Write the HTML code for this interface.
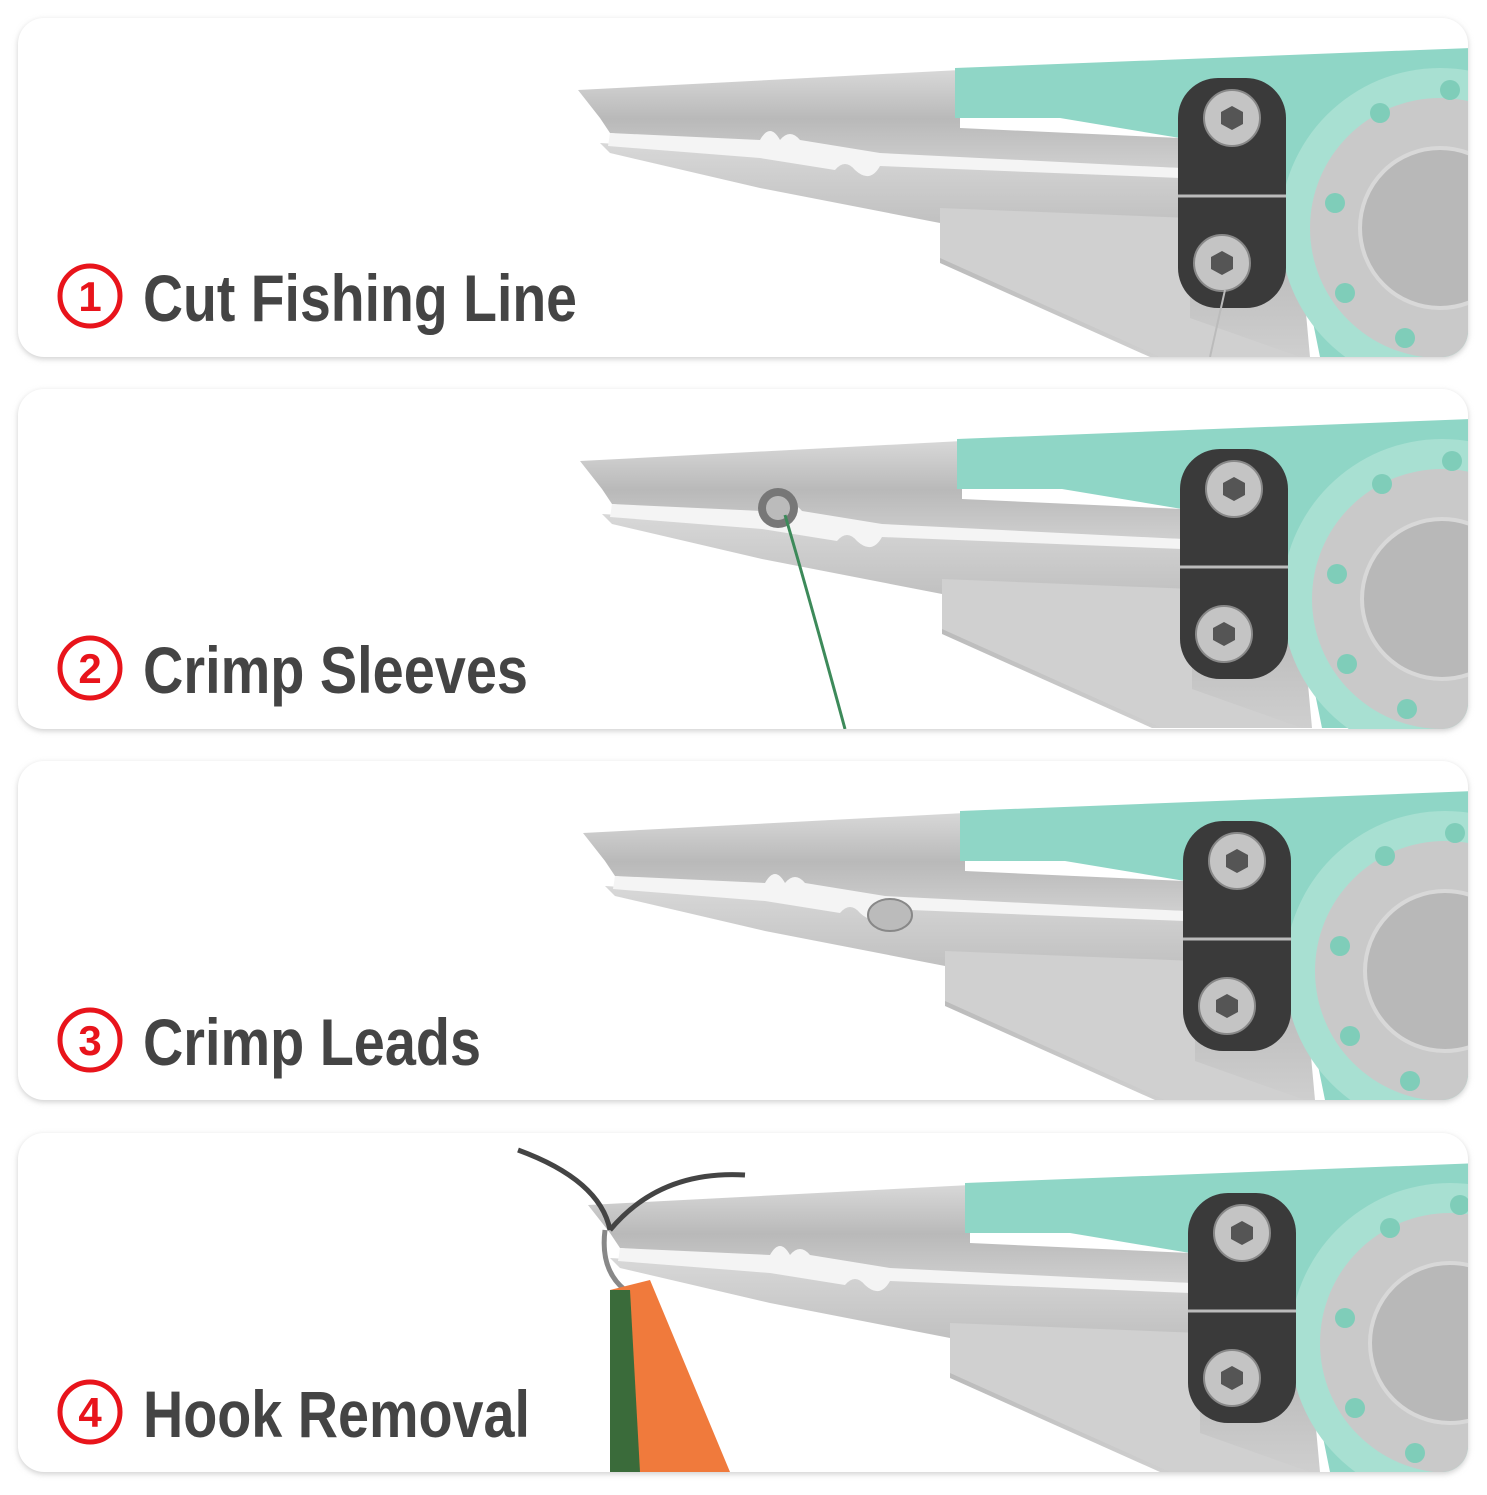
<!DOCTYPE html>
<html><head><meta charset="utf-8"><style>
html,body{margin:0;padding:0;background:#fff;}
body{width:1487px;height:1490px;overflow:hidden;}
</style></head><body>
<svg width="1487" height="1490" viewBox="0 0 1487 1490" xmlns="http://www.w3.org/2000/svg">
<defs>
<filter id="sh" x="-5%" y="-10%" width="110%" height="120%"><feGaussianBlur stdDeviation="3"/></filter>
<linearGradient id="silv" x1="0" y1="0" x2="0" y2="1"><stop offset="0" stop-color="#d8d8d8"/><stop offset="0.5" stop-color="#b9b9b9"/><stop offset="1" stop-color="#cfcfcf"/></linearGradient>
<g id="plier">
  <!-- lower jaw -->
  <polygon points="600,125 1190,160 1190,230 1300,230 1310,339 1150,339 940,245 940,205 760,170 610,135" fill="url(#silv)"/>
  <polygon points="940,190 1190,200 1190,300 1300,339 1160,339 940,240" fill="#d0d0d0"/>
  <!-- upper jaw -->
  <polygon points="578,72 960,52 960,110 1180,120 1180,150 880,140 610,115 600,100" fill="url(#silv)"/>
  <!-- teeth gap -->
  <path d="M610,115 L760,122 q10,-18 20,0 q10,-12 20,0 L880,135 L1180,150 L1180,160 L880,148 q-10,18 -25,4 q-10,-12 -20,0 L760,140 L608,128 Z" fill="#f4f4f4"/>
  <!-- teal handle -->
  <polygon points="955,50 1470,30 1470,339 1320,339 1300,240 1280,150 1180,120 1060,100 955,100" fill="#8fd6c6"/>
  <circle cx="1440" cy="210" r="160" fill="#a8e0d2"/>
  <circle cx="1440" cy="210" r="130" fill="#c9c9c9"/>
  <circle cx="1440" cy="210" r="80" fill="#b8b8b8" stroke="#d8d8d8" stroke-width="4"/>
  <g fill="#7fcdb9">
    <circle cx="1380" cy="95" r="10"/><circle cx="1335" cy="185" r="10"/><circle cx="1345" cy="275" r="10"/>
    <circle cx="1405" cy="320" r="10"/><circle cx="1450" cy="72" r="10"/>
  </g>
  <!-- plate -->
  <rect x="1178" y="60" width="108" height="230" rx="40" fill="#3a3a3a"/>
  <line x1="1178" y1="178" x2="1286" y2="178" stroke="#bbb" stroke-width="3"/>
  <circle cx="1232" cy="100" r="28" fill="#c4c4c4" stroke="#888" stroke-width="2"/>
  <polygon points="1232,88 1243,94 1243,106 1232,112 1221,106 1221,94" fill="#555"/>
  <circle cx="1222" cy="245" r="28" fill="#c4c4c4" stroke="#888" stroke-width="2"/>
  <polygon points="1222,233 1233,239 1233,251 1222,257 1211,251 1211,239" fill="#555"/>
</g>
<clipPath id="c1"><rect x="18" y="18" width="1450" height="339" rx="26"/></clipPath>
<clipPath id="c2"><rect x="18" y="389" width="1450" height="340" rx="26"/></clipPath>
<clipPath id="c3"><rect x="18" y="761" width="1450" height="339" rx="26"/></clipPath>
<clipPath id="c4"><rect x="18" y="1133" width="1450" height="339" rx="26"/></clipPath>
</defs>

<g fill="#cfcfcf" filter="url(#sh)">
<rect x="18" y="20" width="1450" height="339" rx="26"/>
<rect x="18" y="391" width="1450" height="340" rx="26"/>
<rect x="18" y="763" width="1450" height="339" rx="26"/>
<rect x="18" y="1135" width="1450" height="339" rx="26"/>
</g>
<g fill="#fff">
<rect x="18" y="18" width="1450" height="339" rx="26"/>
<rect x="18" y="389" width="1450" height="340" rx="26"/>
<rect x="18" y="761" width="1450" height="339" rx="26"/>
<rect x="18" y="1133" width="1450" height="339" rx="26"/>
</g>

<g clip-path="url(#c1)"><use href="#plier" transform="translate(0,18)"/>
<line x1="1225" y1="290" x2="1210" y2="357" stroke="#bbb" stroke-width="2"/></g>
<g clip-path="url(#c2)"><use href="#plier" transform="translate(2,389)"/>
<circle cx="778" cy="508" r="20" fill="#777"/><circle cx="778" cy="508" r="12" fill="#bbb"/>
<path d="M785,515 Q810,600 845,729" stroke="#3d8a5a" stroke-width="3" fill="none"/></g>
<g clip-path="url(#c3)"><use href="#plier" transform="translate(5,761)"/>
<ellipse cx="890" cy="915" rx="22" ry="16" fill="#bbb" stroke="#888" stroke-width="2"/></g>
<g clip-path="url(#c4)"><use href="#plier" transform="translate(10,1133)"/>
<path d="M518,1150 Q600,1180 610,1230 M610,1230 Q660,1170 745,1175" stroke="#444" stroke-width="5" fill="none"/>
<path d="M605,1230 Q600,1270 625,1290" stroke="#888" stroke-width="5" fill="none"/>
<polygon points="610,1290 650,1280 730,1472 610,1472" fill="#f07a3c"/>
<polygon points="610,1290 630,1290 640,1472 610,1472" fill="#3a6b3a"/></g>

<g font-family="'Liberation Sans Narrow','Liberation Sans',sans-serif" font-weight="bold">
<g fill="none" stroke="#e8141b" stroke-width="5">
<circle cx="90" cy="296" r="30"/><circle cx="90" cy="668" r="30"/><circle cx="90" cy="1040" r="30"/><circle cx="90" cy="1412" r="30"/>
</g>
<g fill="#e8141b" font-size="42" text-anchor="middle">
<text x="90" y="311">1</text><text x="90" y="683">2</text><text x="90" y="1055">3</text><text x="90" y="1427">4</text>
</g>
<g fill="#444" font-size="66">
<text x="143" y="321" textLength="434" lengthAdjust="spacingAndGlyphs">Cut Fishing Line</text>
<text x="143" y="693" textLength="385" lengthAdjust="spacingAndGlyphs">Crimp Sleeves</text>
<text x="143" y="1065" textLength="338" lengthAdjust="spacingAndGlyphs">Crimp Leads</text>
<text x="143" y="1437" textLength="387" lengthAdjust="spacingAndGlyphs">Hook Removal</text>
</g>
</g>
</svg>
</body></html>
